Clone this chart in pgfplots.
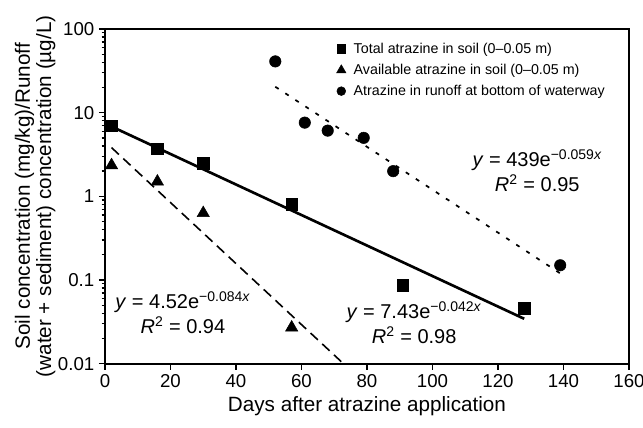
\documentclass[border=0pt]{standalone}
\usepackage{fontspec}
\setmainfont{Liberation Sans}
\usepackage{pgfplots}
\pgfplotsset{compat=1.18}
\begin{document}
\begin{tikzpicture}
\begin{axis}[
  name=ax,
  scale only axis, width=393pt, height=251pt,
  ymode=log, xmin=0, xmax=160, ymin=0.01, ymax=100,
  xtick={0,20,...,160},
  log ticks with fixed point,
  tick align=outside, xtick pos=bottom, ytick pos=left,
  major tick length=4.5pt, minor tick length=2.5pt,
  axis line style={line width=1.4pt},
  every tick/.style={black, line width=1pt},
  /pgf/number format/assume math mode=true,
  tick label style={font=\fontsize{14}{16}\selectfont},
  label style={font=\fontsize{15.5}{16}\selectfont},
  xlabel={Days after atrazine application},
  ylabel={Soil concentration (mg/kg)/Runoff\\(water + sediment) concentration (µg/L)},
  ylabel style={align=center},
  ylabel shift=-5pt,
  legend style={draw=none, fill=none, at={(rel axis cs:0.43,0.975)}, anchor=north west,
    font=\fontsize{10.7}{12}\selectfont, row sep=2.5pt},
  legend cell align=left,
  legend image code/.code={\path (0cm,0cm) (0.42cm,0cm);
    \draw[#1] plot coordinates {(0.17cm,0cm)};},
]
% legend images
\addlegendimage{only marks, mark=square*, mark size=3.3pt}
\addlegendentry{Total atrazine in soil (0–0.05 m)}
\addlegendimage{only marks, mark=triangle*, mark size=4pt}
\addlegendentry{Available atrazine in soil (0–0.05 m)}
\addlegendimage{only marks, mark=*, mark size=3.3pt}
\addlegendentry{Atrazine in runoff at bottom of waterway}

% total atrazine in soil
\addplot[only marks, mark=square*, mark size=4.3pt, forget plot] coordinates {
  (2,7.0) (16,3.7) (30,2.5) (57,0.8) (91,0.087) (128,0.046)
};
% available atrazine in soil
\addplot[only marks, mark=triangle*, mark size=5.3pt, forget plot] coordinates {
  (2,2.35) (16,1.5) (30,0.63) (57,0.027)
};
% runoff
\addplot[only marks, mark=*, mark size=4.3pt, forget plot] coordinates {
  (52,41) (61,7.6) (68,6.1) (79,5.0) (88,2.0) (139,0.15)
};

% fitted lines (endpoints)
\addplot[line width=2pt, forget plot] coordinates {(1,7.12) (128,0.0344)};
\addplot[line width=1.2pt, dash pattern=on 7.5pt off 4.5pt, forget plot] coordinates {(2,3.82) (72.8,0.01)};
\addplot[line width=1.3pt, dash pattern=on 3pt off 6pt, forget plot] coordinates {(52,20.4) (139,0.12)};

\node[font=\fontsize{15}{19}\selectfont, align=center] at (axis cs:132,2.04)
  {\textit{y} = 439e\textsuperscript{−0.059\textit{x}}\\\textit{R}\textsuperscript{2} = 0.95};
\node[font=\fontsize{15}{19}\selectfont, align=center] at (axis cs:23.8,0.0405)
  {\textit{y} = 4.52e\textsuperscript{−0.084\textit{x}}\\\textit{R}\textsuperscript{2} = 0.94};
\node[font=\fontsize{15}{19}\selectfont, align=center] at (axis cs:94.4,0.0308)
  {\textit{y} = 7.43e\textsuperscript{−0.042\textit{x}}\\\textit{R}\textsuperscript{2} = 0.98};
\end{axis}
\pgfresetboundingbox
\path ([shift={(-78.75pt,-48pt)}]ax.south west) rectangle ([shift={(10.5pt,21.75pt)}]ax.north east);
\end{tikzpicture}
\end{document}
